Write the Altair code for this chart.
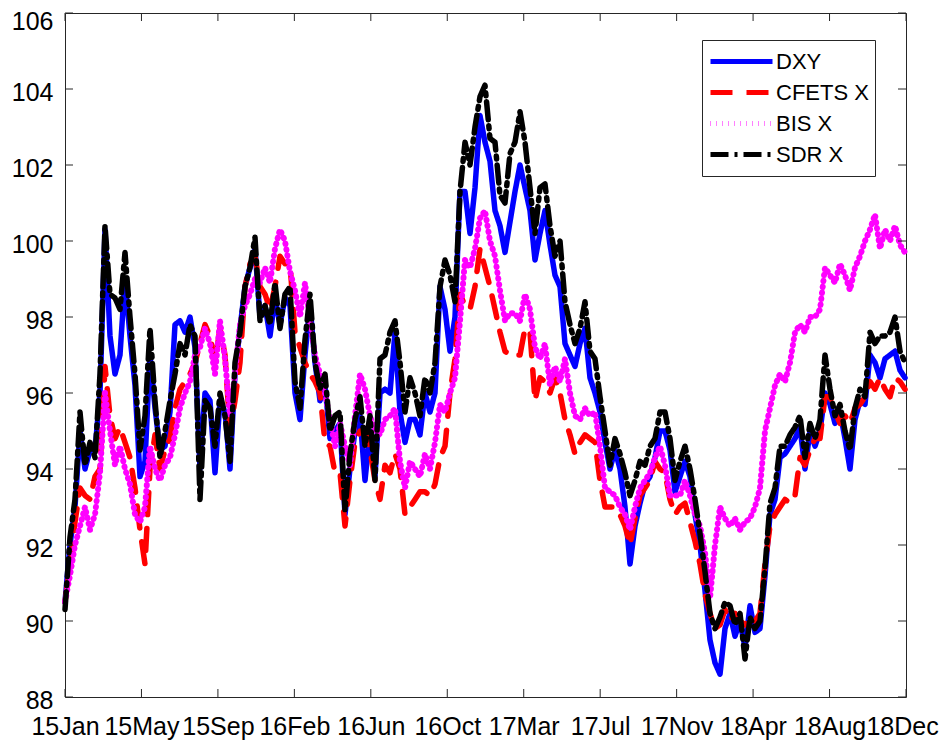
import json
import altair as alt
import numpy as np
import pandas as pd

# ---------------- data ----------------
TICK_LABELS = ["15Jan", "15May", "15Sep", "16Feb", "16Jun", "16Oct",
               "17Mar", "17Jul", "17Nov", "18Apr", "18Aug", "18Dec"]
TICK_DAYS = [0, 90, 180, 270, 360, 450, 540, 630, 720, 810, 900, 990]
Y_TICKS = [88, 90, 92, 94, 96, 98, 100, 102, 104, 106]

SERIES = ["DXY", "CFETS X", "BIS X", "SDR X"]
COLORS = ["#0000ff", "#ff0000", "#ff00ff", "#000000"]
DASHES = [[1, 0], [22, 14], [0.5, 5.5], [18, 6, 3, 6]]
WIDTHS = [5.5, 5.5, 6, 5.5]

DXY = [
    90.5, 92.0, 93.0, 95.0, 94.0, 94.5, 94.5, 96.0, 100.3, 97.5,
    96.5, 97.0, 99.0, 97.5, 96.2, 93.8, 94.2, 97.0, 95.6, 94.5,
    94.6, 95.5, 97.8, 97.9, 97.6, 98.0, 97.2, 94.0, 96.0, 95.8,
    93.9, 95.8, 95.5, 94.0, 96.5, 97.7, 98.8, 99.3, 99.8, 98.0,
    98.3, 97.5, 98.5, 97.8, 98.5, 98.3, 96.0, 95.3, 97.0, 98.3,
    96.8, 95.8, 96.2, 94.8, 95.0, 95.2, 92.8, 94.0, 95.0, 95.4,
    93.7, 95.0, 93.8, 96.0, 96.1, 96.0, 97.6, 95.5, 94.7, 95.3,
    95.3, 94.9, 96.0, 95.5, 96.0, 98.8, 98.2, 97.1, 98.0, 101.3,
    101.3, 100.2, 101.4, 103.3, 102.6, 102.1, 100.8, 100.4, 99.7, 100.5,
    101.3, 102.0, 101.4, 100.8, 99.5, 100.2, 100.8, 99.9, 99.1, 98.8,
    97.3, 97.0, 96.7, 97.3, 97.7, 96.4, 96.0, 95.5, 94.7, 94.0,
    94.5, 94.0, 93.0, 91.5, 92.5, 93.1, 93.6, 93.8, 94.3, 95.0,
    95.0, 94.5, 93.4, 93.8, 94.2, 93.8, 92.8, 92.0, 90.8, 89.5,
    88.9, 88.6, 89.8, 90.2, 89.6, 90.0, 89.3, 90.4, 89.7, 89.8,
    91.2, 92.8, 93.2, 94.3, 94.4, 94.6, 94.8, 95.1, 94.0, 95.0,
    94.6, 95.0, 96.0, 95.7, 95.2, 95.5, 94.8, 94.0, 95.3, 95.8,
    95.7, 97.0, 96.8, 96.4, 96.9, 97.0, 97.1, 96.6, 96.4,
]

CFETS = [
    90.5, 91.5, 92.6, 93.5, 93.3, 93.2, 93.8, 94.0, 96.7, 95.4,
    94.8, 95.1, 94.7, 94.3, 93.5, 92.4, 91.5, 94.0, 94.9, 94.0,
    94.5, 94.8, 95.6, 96.1, 96.3, 96.5, 96.8, 97.3, 97.8, 97.5,
    96.8, 97.7, 97.0, 95.0, 95.8, 96.8, 98.8, 99.4, 99.6, 98.8,
    98.6, 98.2, 98.8, 99.6, 99.4, 99.4, 97.6, 97.2, 96.8, 96.5,
    96.3, 96.0, 94.7, 94.6, 93.9, 93.9, 92.5, 93.7, 94.7, 95.0,
    95.0, 94.5, 93.7, 93.2, 94.1, 93.9, 94.4, 94.0, 92.8, 93.0,
    93.2, 93.4, 93.4, 93.3, 93.6, 94.3, 94.6, 96.0, 96.9, 98.6,
    98.3, 98.2, 98.8, 99.8, 99.3, 98.8, 98.2, 97.6, 97.1, 97.0,
    97.0, 97.0, 97.7, 97.6, 95.8, 96.4, 96.3, 96.0, 96.4, 96.0,
    95.3, 94.9, 94.4, 94.7, 94.9, 94.8, 94.7, 93.7, 93.0, 93.0,
    93.0, 92.8, 92.5, 92.0, 92.7, 93.3, 93.5, 93.7, 94.2, 94.0,
    93.9, 93.2, 92.8, 93.0, 93.1, 92.6, 92.1, 91.5, 90.7, 90.2,
    89.8, 89.9, 90.3, 90.0, 90.2, 90.0, 89.9, 90.1, 90.0, 90.2,
    91.5, 92.5, 92.8, 93.0, 93.2, 93.1, 93.3, 94.3, 94.1, 94.5,
    94.8, 94.8, 95.9, 95.9, 95.5, 95.2, 95.4, 95.2, 95.6, 95.7,
    95.9, 96.3, 96.1, 96.4, 96.1, 95.9, 96.4, 96.3, 96.1,
]

BIS = [
    90.5, 91.2, 92.0, 92.5, 93.0, 92.4, 92.8, 93.9, 96.0, 95.0,
    94.1, 94.6, 94.0, 93.6, 92.8, 92.6, 93.0, 94.6, 94.0, 93.7,
    94.1, 94.3, 94.9, 95.6, 96.0, 96.3, 97.0, 97.2, 97.7, 97.3,
    96.5, 97.9, 96.9, 95.4, 96.5, 97.8, 98.3, 98.6, 99.0, 98.9,
    99.3, 98.9, 99.8, 100.3, 100.0, 99.2, 98.7, 98.0, 98.9, 97.9,
    97.0, 96.5, 96.0, 95.3, 94.6, 95.2, 94.6, 94.1, 95.4, 96.5,
    96.1, 95.4, 95.0, 94.9, 95.3, 95.4, 95.6, 94.2, 93.5, 94.2,
    94.0, 93.8, 94.4, 94.0, 94.7, 95.7, 95.5, 96.0, 96.4, 97.9,
    99.5, 99.3, 99.8, 100.6, 100.8, 100.0, 99.6, 98.7, 97.9, 98.1,
    98.1, 97.9, 98.6, 98.2, 97.2, 96.9, 97.3, 96.2, 96.7, 96.3,
    96.9, 96.0, 95.4, 95.3, 95.6, 95.4, 95.5, 94.6, 93.5, 93.4,
    93.3, 93.0, 92.8, 92.4, 93.0, 93.5, 93.7, 93.9, 94.3, 94.6,
    94.1, 93.3, 93.3, 93.3, 93.7, 93.3, 92.8, 92.5, 91.8, 90.6,
    92.0, 93.0, 92.7, 92.5, 92.7, 92.4, 92.6, 92.7, 93.0, 93.5,
    95.0, 95.6, 96.2, 96.5, 96.3, 96.8, 97.6, 97.8, 97.6, 98.0,
    98.0, 98.2, 99.3, 99.1, 98.9, 99.4, 99.1, 98.7, 99.3, 99.6,
    100.0, 100.3, 100.7, 99.8, 100.3, 100.0, 100.4, 99.9, 99.7,
]

SDR = [
    90.3, 92.2, 93.2, 95.5, 94.1, 94.7, 94.3, 96.5, 100.4, 98.6,
    98.5, 98.2, 99.7, 98.0, 96.5, 94.5, 95.4, 97.7, 95.8, 94.3,
    95.0, 95.8, 96.5, 97.3, 97.0, 97.8, 97.5, 93.2, 95.8, 95.6,
    94.6, 96.0, 95.4, 94.2, 96.8, 97.6, 98.8, 99.3, 100.1, 97.9,
    98.3, 97.8, 98.9, 97.7, 98.6, 98.8, 96.3, 95.6, 97.4, 98.6,
    96.8, 96.1, 96.5, 95.0, 95.4, 95.5, 92.9, 94.4, 95.3, 95.9,
    94.6, 95.4, 93.7, 96.9, 97.0, 97.6, 97.9, 96.8, 95.5, 96.4,
    96.0, 95.4, 96.4, 96.0, 96.8, 98.8, 99.5, 99.1, 98.4, 101.3,
    102.6, 102.0, 103.0, 103.8, 104.1, 102.7, 102.6, 101.2, 101.0, 102.3,
    102.6, 103.4, 102.6, 101.4, 100.2, 101.4, 101.5, 100.4, 99.6, 100.0,
    98.4, 97.8, 97.3, 97.7, 98.4, 97.1, 96.9, 95.9, 95.0, 94.1,
    94.8, 94.4, 93.9, 93.3, 93.7, 94.2, 94.1, 94.6, 94.8, 95.5,
    95.5, 94.8, 93.7, 94.2, 94.6, 94.0, 93.2, 92.3, 91.3, 90.2,
    89.8, 90.1, 90.5, 90.4, 89.9, 90.2, 89.0, 90.1, 89.8, 90.0,
    91.4, 93.1, 93.5, 94.6, 94.6, 94.9, 95.1, 95.4, 94.3, 95.2,
    94.8, 95.3, 97.0, 96.1, 95.4, 95.7, 95.0, 94.5, 95.6, 96.1,
    95.9, 97.6, 97.3, 97.5, 97.5, 97.6, 98.0, 97.1, 96.8,
]

VALUES = [DXY, CFETS, BIS, SDR]

# evenly spaced trading-day positions of the samples (0 .. ~990)
N = len(DXY)
DAYS = np.arange(N) * 5 * 990 / 841

rows = []
for name, vals in zip(SERIES, VALUES):
    for d, v in zip(DAYS, vals):
        rows.append({"series": name, "day": float(d), "value": v})
df = pd.DataFrame(rows)

FONT = "Liberation Sans"
AXIS_COLOR = "#262626"
W, H = 841, 684

label_expr = json.dumps(TICK_LABELS) + "[round(datum.value / 90)]"

color_scale = alt.Scale(domain=SERIES, range=COLORS)
dash_scale = alt.Scale(domain=SERIES, range=DASHES)

x_enc = alt.X(
    "day:Q",
    scale=alt.Scale(domain=[0, 990], nice=False, zero=False),
    axis=alt.Axis(values=TICK_DAYS, labelExpr=label_expr, ticks=False,
                  domain=False, grid=False, title=None, labelFontSize=25,
                  labelFont=FONT, labelColor="#000000", labelPadding=17,
                  labelFlush=False, labelOverlap=False,
                  labelOffset={"condition": {"test": "datum.value >= 990",
                                             "value": -4},
                               "value": 0}),
)
y_enc = alt.Y(
    "value:Q",
    scale=alt.Scale(domain=[88, 106], nice=False, zero=False),
    axis=alt.Axis(values=Y_TICKS, ticks=False, domain=False, grid=False,
                  title=None, labelFontSize=25, labelFont=FONT,
                  labelColor="#000000", labelPadding=12,
                  labelOffset={"condition": {"test": "datum.value >= 106",
                                             "value": 8},
                               "value": 3},
                  labelFlush=False, labelOverlap=False, format="d"),
)

layers = []
for s, w in zip(SERIES, WIDTHS):
    layers.append(
        alt.Chart(df)
        .transform_filter(alt.datum.series == s)
        .mark_line(strokeWidth=w, strokeCap="round", strokeJoin="round")
        .encode(
            x=x_enc,
            y=y_enc,
            color=alt.Color("series:N", scale=color_scale,
                            legend=alt.Legend(title=None)),
            strokeDash=alt.StrokeDash("series:N", scale=dash_scale,
                                      legend=alt.Legend(title=None)),
        )
    )

# inward pointing ticks on all four sides (MATLAB style box)
xt = pd.DataFrame({"day": TICK_DAYS})
yt = pd.DataFrame({"value": Y_TICKS})
tick_style = dict(color=AXIS_COLOR, strokeWidth=1)
bottom_ticks = alt.Chart(xt).mark_rule(**tick_style).encode(
    x="day:Q", y=alt.value(H), y2=alt.value(H - 8))
top_ticks = alt.Chart(xt).mark_rule(**tick_style).encode(
    x="day:Q", y=alt.value(0), y2=alt.value(8))
left_ticks = alt.Chart(yt).mark_rule(**tick_style).encode(
    y="value:Q", x=alt.value(0), x2=alt.value(8))
right_ticks = alt.Chart(yt).mark_rule(**tick_style).encode(
    y="value:Q", x=alt.value(W), x2=alt.value(W - 8))

chart = (
    alt.layer(*layers, bottom_ticks, top_ticks, left_ticks, right_ticks)
    .properties(
        width=W,
        height=H,
        autosize=alt.AutoSizeParams(type="none"),
        padding={"left": 57, "top": 5, "right": 33, "bottom": 47},
        background="white",
    )
    .configure_view(stroke=AXIS_COLOR, strokeWidth=1)
    .configure_legend(
        orient="none",
        legendX=637,
        legendY=27,
        strokeColor=AXIS_COLOR,
        fillColor="white",
        padding=6,
        cornerRadius=0,
        symbolType="stroke",
        symbolSize=3844,
        symbolStrokeWidth=5,
        labelFont=FONT,
        labelFontSize=22,
        labelColor="#000000",
        labelOffset=1,
        clipHeight=31,
        rowPadding=0,
    )
)

chart.save("out.html", embed_options={"renderer": "svg", "actions": False})
